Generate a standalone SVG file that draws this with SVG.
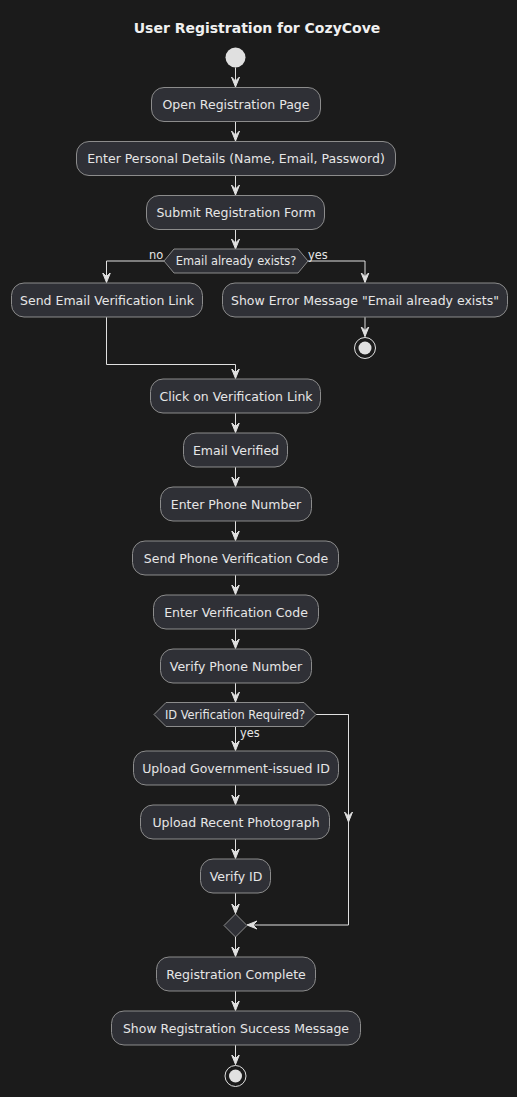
<svg xmlns="http://www.w3.org/2000/svg" width="517" height="1097" viewBox="0 0 517 1097">
<defs>
<style>
.bg{fill:#1b1b1b}
.act{fill:#2f3036;stroke:#8c8c8c;stroke-width:1}
.t{font-family:"DejaVu Sans",sans-serif;font-size:12.5px;fill:#e6e6e6;text-anchor:middle}
.ts{font-family:"DejaVu Sans",sans-serif;font-size:11.4px;fill:#e6e6e6}
.title{font-family:"DejaVu Sans",sans-serif;font-size:14px;font-weight:bold;fill:#f0f0f0;text-anchor:middle}
.ln{fill:none;stroke:#e0e0e0;stroke-width:1}
.ah{fill:#e0e0e0;stroke:#e0e0e0;stroke-width:1}
</style>
<marker id="arr" viewBox="0 0 12 12" markerWidth="12" markerHeight="12" refX="10" refY="6" orient="auto" markerUnits="userSpaceOnUse">
<path d="M0,2 L10,6 L0,10 L4,6 Z" class="ah"/>
</marker>
</defs>
<rect class="bg" x="0" y="0" width="517" height="1097"/>
<text class="title" x="257" y="33">User Registration for CozyCove</text>

<g id="connectors">
<line class="ln" x1="235.5" y1="67.5" x2="235.5" y2="87" marker-end="url(#arr)"/>
<line class="ln" x1="235.5" y1="121.5" x2="235.5" y2="141" marker-end="url(#arr)"/>
<line class="ln" x1="235.5" y1="175.5" x2="235.5" y2="195" marker-end="url(#arr)"/>
<line class="ln" x1="235.5" y1="229.5" x2="235.5" y2="249" marker-end="url(#arr)"/>
<polyline class="ln" points="164,261 106.5,261 106.5,282.5" marker-end="url(#arr)"/>
<polyline class="ln" points="308,261 365,261 365,282.5" marker-end="url(#arr)"/>
<line class="ln" x1="365" y1="317" x2="365" y2="336.5" marker-end="url(#arr)"/>
<polyline class="ln" points="106.5,317 106.5,364.5 235.5,364.5 235.5,378.5" marker-end="url(#arr)"/>
<line class="ln" x1="235.5" y1="413" x2="235.5" y2="432.5" marker-end="url(#arr)"/>
<line class="ln" x1="235.5" y1="467" x2="235.5" y2="486.5" marker-end="url(#arr)"/>
<line class="ln" x1="235.5" y1="521" x2="235.5" y2="540.5" marker-end="url(#arr)"/>
<line class="ln" x1="235.5" y1="575" x2="235.5" y2="594.5" marker-end="url(#arr)"/>
<line class="ln" x1="235.5" y1="629" x2="235.5" y2="648.5" marker-end="url(#arr)"/>
<line class="ln" x1="235.5" y1="683" x2="235.5" y2="702" marker-end="url(#arr)"/>
<line class="ln" x1="235.5" y1="727" x2="235.5" y2="750.5" marker-end="url(#arr)"/>
<line class="ln" x1="235.5" y1="785" x2="235.5" y2="804.5" marker-end="url(#arr)"/>
<line class="ln" x1="235.5" y1="839" x2="235.5" y2="858.5" marker-end="url(#arr)"/>
<line class="ln" x1="235.5" y1="893" x2="235.5" y2="913.5" marker-end="url(#arr)"/>
<polyline class="ln" points="316,714.5 348.5,714.5 348.5,925 247,925" marker-end="url(#arr)"/>
<line class="ln" x1="348.5" y1="714.5" x2="348.5" y2="822" marker-end="url(#arr)"/>
<line class="ln" x1="235.5" y1="936.5" x2="235.5" y2="956.5" marker-end="url(#arr)"/>
<line class="ln" x1="235.5" y1="991" x2="235.5" y2="1010.5" marker-end="url(#arr)"/>
<line class="ln" x1="235.5" y1="1045" x2="235.5" y2="1064.5" marker-end="url(#arr)"/>
<text class="ts" x="149" y="259">no</text>
<text class="ts" x="308" y="259">yes</text>
<text class="ts" x="240" y="737">yes</text>
</g>

<g id="start"><circle cx="235.5" cy="57.5" r="10" fill="#e0e0e0"/></g>

<g id="n1"><rect class="act" x="151.5" y="87.5" width="169" height="34" rx="12.5"/><text class="t" x="236" y="109">Open Registration Page</text></g>
<g id="n2"><rect class="act" x="76.5" y="141.5" width="319" height="34" rx="12.5"/><text class="t" x="236" y="163">Enter Personal Details (Name, Email, Password)</text></g>
<g id="n3"><rect class="act" x="146.5" y="195.5" width="178" height="34" rx="12.5"/><text class="t" x="236" y="217">Submit Registration Form</text></g>
<g id="d1"><polygon class="act" points="164,261 174,249 298,249 308,261 298,273 174,273"/><text class="ts" x="236" y="265" text-anchor="middle">Email already exists?</text></g>
<g id="n4"><rect class="act" x="11.5" y="283" width="191" height="34" rx="12.5"/><text class="t" x="107" y="304.5">Send Email Verification Link</text></g>
<g id="n5"><rect class="act" x="222.5" y="283" width="285" height="34" rx="12.5"/><text class="t" x="365" y="304.5">Show Error Message "Email already exists"</text></g>
<g id="end1"><circle cx="365" cy="348" r="10.5" fill="none" stroke="#e0e0e0" stroke-width="1"/><circle cx="365" cy="348" r="6.5" fill="#e0e0e0"/></g>
<g id="n6"><rect class="act" x="150.5" y="379" width="170" height="34" rx="12.5"/><text class="t" x="236" y="400.5">Click on Verification Link</text></g>
<g id="n7"><rect class="act" x="183.5" y="433" width="104" height="34" rx="12.5"/><text class="t" x="236" y="454.5">Email Verified</text></g>
<g id="n8"><rect class="act" x="160.5" y="487" width="151" height="34" rx="12.5"/><text class="t" x="236" y="508.5">Enter Phone Number</text></g>
<g id="n9"><rect class="act" x="132.5" y="541" width="206" height="34" rx="12.5"/><text class="t" x="236" y="562.5">Send Phone Verification Code</text></g>
<g id="n10"><rect class="act" x="153.5" y="595" width="165" height="34" rx="12.5"/><text class="t" x="236" y="616.5">Enter Verification Code</text></g>
<g id="n11"><rect class="act" x="160.5" y="649" width="151" height="34" rx="12.5"/><text class="t" x="236" y="670.5">Verify Phone Number</text></g>
<g id="d2"><polygon class="act" points="154,714.5 166,702.5 304,702.5 316,714.5 304,726.5 166,726.5"/><text class="ts" x="235" y="718.5" text-anchor="middle">ID Verification Required?</text></g>
<g id="n12"><rect class="act" x="133.5" y="751" width="205" height="34" rx="12.5"/><text class="t" x="236" y="772.5">Upload Government-issued ID</text></g>
<g id="n13"><rect class="act" x="140.5" y="805" width="189" height="34" rx="12.5"/><text class="t" x="236" y="826.5">Upload Recent Photograph</text></g>
<g id="n14"><rect class="act" x="200.5" y="859" width="70" height="34" rx="12.5"/><text class="t" x="236" y="880.5">Verify ID</text></g>
<g id="merge"><polygon class="act" points="235.5,914 247,925.5 235.5,937 224,925.5"/></g>
<g id="n15"><rect class="act" x="156.5" y="957" width="159" height="34" rx="12.5"/><text class="t" x="236" y="978.5">Registration Complete</text></g>
<g id="n16"><rect class="act" x="111.5" y="1011" width="249" height="34" rx="12.5"/><text class="t" x="236" y="1032.5">Show Registration Success Message</text></g>
<g id="end2"><circle cx="235.5" cy="1076" r="10.5" fill="none" stroke="#e0e0e0" stroke-width="1"/><circle cx="235.5" cy="1076" r="6.5" fill="#e0e0e0"/></g>
</svg>
